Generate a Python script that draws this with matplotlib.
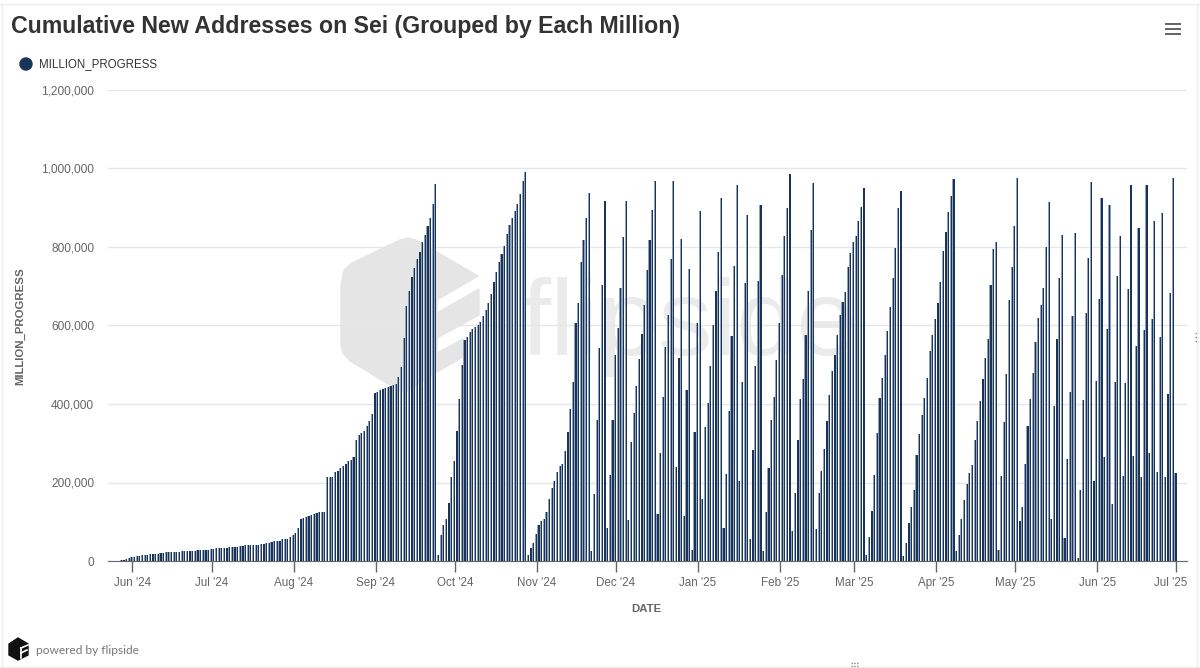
import matplotlib
matplotlib.use("Agg")
import matplotlib.pyplot as plt
import numpy as np
import pandas as pd
from matplotlib.patches import Circle, Polygon, Rectangle
from matplotlib.transforms import ScaledTranslation

plt.rcParams['font.family'] = ['Liberation Sans', 'DejaVu Sans']

# daily values in thousands, one list per climb
launch = [1, 1, 1, 1, 1, 2, 3, 4, 7]
june_july = [10, 11, 13, 14, 15, 15, 16, 18, 18, 18, 19, 20, 21, 23, 23, 23, 23, 23, 23, 25, 25, 25, 25, 25, 25,
             28, 28, 28, 28, 28, 30, 31, 33, 33, 33, 33, 33, 35, 35, 35, 35, 37, 39, 40, 40, 40, 40, 42, 42,
             43, 43, 47, 47, 49, 51, 51, 52, 55, 56, 56, 62, 66]
august = [71, 83, 108, 109, 112, 114, 118, 120, 122, 124, 125, 126, 213, 213, 214, 227, 229, 236, 242, 248,
          254, 258, 264, 309, 320, 325, 331, 343, 356, 375]
september = [429, 431, 435, 438, 441, 443, 446, 448, 452, 470, 494, 569, 650, 689, 723, 746, 769, 786, 812,
             831, 854, 875, 909, 960]
october = [15, 66, 92, 108, 147, 213, 254, 331, 414, 500, 562, 570, 583, 590, 596, 600, 610, 624, 640, 657, 680,
           710, 736, 763, 782, 803, 833, 857, 874, 891, 909, 935, 967, 992]
november = [15, 32, 47, 70, 92, 103, 108, 125, 159, 187, 204, 227, 241, 248, 280, 329, 386, 456, 606, 658,
            761, 818, 874, 938]
late_2024 = [25, 170, 358, 542, 704, 916, 83, 218, 360, 525, 594, 696, 826, 916, 104, 303, 377, 445, 515, 579,
             651, 742, 818, 894, 967, 121, 275, 418, 545, 628, 769, 967, 240, 518, 820, 115, 435, 744]
january = [28, 329, 606, 891, 158, 342, 403, 496, 600, 687, 786, 924, 83, 221, 382, 572, 751, 958, 203, 456,
           708, 882, 55, 282, 496, 714, 907]
february = [25, 124, 237, 358, 418, 513, 606, 729, 828, 899, 986, 77, 174, 308, 412, 463, 577, 687, 844, 964]
march = [81, 174, 230, 286, 357, 422, 483, 525, 577, 628, 661, 685, 748, 784, 812, 827, 865, 903, 950]
spring = [15, 60, 128, 220, 326, 416, 466, 525, 586, 648, 720, 798, 899, 943, 13, 47, 98, 138, 182, 271, 323,
          373, 416, 466, 536, 577, 617, 658, 710, 791, 837, 890, 929, 973]
april_may = [25, 66, 108, 155, 195, 223, 244, 308, 357, 407, 463, 518, 566, 704, 795, 814, 28, 217, 353, 477,
             665, 748, 854, 977]
may_2025 = [103, 138, 248, 343, 414, 480, 557, 619, 651, 695, 800, 914, 108, 394, 565, 720, 831, 58, 261, 431,
            625, 836]
june_2025 = [7, 180, 409, 632, 771, 966, 204, 458, 668, 926, 265, 591, 907, 144, 456, 725, 829, 217, 453, 693,
             958, 267, 549, 848, 214, 589, 958, 275, 617, 865, 227, 570, 886, 214, 426, 683, 975, 223]

values = np.array(launch + june_july + august + september + october + november + late_2024 + january
                  + february + march + spring + april_may + may_2025 + june_2025) * 1000
dates = pd.date_range("2024-05-22 16:00", periods=len(values), freq="D")

month_ticks = pd.date_range("2024-06-01", "2025-07-01", freq="MS")
month_labels = [d.strftime("%b '%y") for d in month_ticks]
y_ticks = [0, 200000, 400000, 600000, 800000, 1000000, 1200000]

navy = "#1a3358"
pale = "#8fa2ba"
grey = "#666666"

fig = plt.figure(figsize=(12, 6.68), dpi=100, facecolor="white")

# page furniture and the watermark sit on a full-figure pixel canvas behind the chart
bg = fig.add_axes([0, 0, 1, 1], zorder=0)
bg.set_xlim(0, 1200)
bg.set_ylim(668, 0)
bg.axis("off")

mark = "#e5e5e5"
bg.add_patch(Polygon([(341, 285), (344, 270), (352, 263), (400, 240), (408, 238), (416, 240), (478, 276), (437, 300),
                      (437, 372), (408, 391), (400, 391), (350, 361), (343, 353), (341, 345)], color=mark, zorder=3))
bg.add_patch(Polygon([(437, 313), (479, 289), (479, 315), (437, 338)], color=mark, zorder=3))
bg.add_patch(Polygon([(437, 353), (463, 339), (463, 357), (437, 372)], color=mark, zorder=3))
bg.text(520, 327, "flipside", fontsize=78, color="#ebebeb", va="center", ha="left", zorder=3)

# frame lines of the card
bg.plot([0, 1200], [4, 4], color="#eeeeee", lw=1)
bg.plot([1.5, 1.5], [4, 668], color="#eeeeee", lw=1)
bg.plot([1197, 1197], [4, 668], color="#eeeeee", lw=1)
bg.plot([0, 1200], [667, 667], color="#eeeeee", lw=1)
for dy in [333, 337, 341]:
    bg.plot([1195, 1198], [dy, dy], color="#888888", lw=1, ls=(0, (1, 1)))
for dy in [663, 666]:
    bg.plot([851, 859], [dy, dy], color="#888888", lw=1, ls=(0, (1, 1)))

bg.text(11, 27, "Cumulative New Addresses on Sei (Grouped by Each Million)", fontsize=16.65, fontweight="bold",
        color="#333333", va="center", ha="left")
bg.add_patch(Circle((26, 64), 6, color=navy))
bg.text(39, 64.5, "MILLION_PROGRESS", fontsize=8.3, color="#333333", va="center", ha="left")
for hy in [23.5, 28.5, 33.5]:
    bg.add_patch(Rectangle((1165, hy - 1), 16, 2, color=grey, lw=0))

bg.add_patch(Polygon([(18, 638), (28, 644), (28, 655), (18, 660), (9, 655), (9, 644)], color="#111111"))
bg.plot([21, 28], [648, 645], color="white", lw=1.2)
bg.plot([21, 27], [653, 650], color="white", lw=1.2)
bg.plot([21, 21], [648, 658], color="white", lw=1.2)
bg.text(36, 650, "powered by flipside", fontsize=8.6, color="#777777", va="center", ha="left",
        family=["Lato", "DejaVu Sans"])

ax = fig.add_axes([108 / 1200, (668 - 561) / 668, (1187 - 108) / 1200, (561 - 90) / 668], zorder=2)
ax.patch.set_alpha(0)
# the screenshot blurs each bar to a pale body with a dark core
ax.bar(dates, values, width=0.8, color=pale, linewidth=0, zorder=3)
ax.bar(dates + pd.Timedelta(hours=4), values, width=0.45, color=navy, linewidth=0, zorder=4)
ax.set_xlim(pd.Timestamp("2024-05-22 19:00"), pd.Timestamp("2025-07-05"))
ax.set_ylim(0, 1200000)

ax.set_yticks(y_ticks)
ax.set_yticklabels([f"{v:,}" for v in y_ticks])
ax.set_xticks(month_ticks)
ax.set_xticklabels(month_labels)
ax.grid(axis="y", color="#e6e6e6", lw=1, zorder=1)
ax.set_axisbelow(True)
for side in ["top", "right", "left"]:
    ax.spines[side].set_visible(False)
ax.spines["bottom"].set_color(grey)
ax.tick_params(axis="x", length=8, width=1, color=grey, labelcolor=grey, labelsize=8.4, pad=3.5)
ax.tick_params(axis="y", length=0, labelcolor=grey, labelsize=8.6, pad=10)
last_label = ax.get_xticklabels()[-1]
last_label.set_transform(last_label.get_transform() + ScaledTranslation(-6 / 100, 0, fig.dpi_scale_trans))

bg.text(20, 326, "MILLION_PROGRESS", fontsize=8.2, fontweight="bold", color=grey, rotation=90,
        va="center", ha="center")
bg.text(646, 609.5, "DATE", fontsize=8.2, fontweight="bold", color=grey, va="center", ha="center")

fig.savefig("out.png", dpi=100)
